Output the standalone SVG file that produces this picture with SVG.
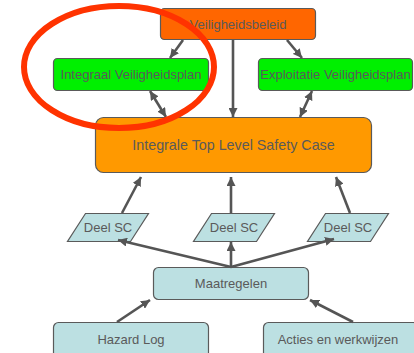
<svg xmlns="http://www.w3.org/2000/svg" width="414" height="353" viewBox="0 0 414 353">
<style>
.box{stroke:#5a5a5a;stroke-width:1.2}
.red{fill:#FF6600}.grn{fill:#00F000}.org{fill:#FF9900}.cyn{fill:#BCE0E2}
text{font-family:"Liberation Sans",Arial,sans-serif;fill:#5a5a5a;text-anchor:middle;font-size:13px}
.big{font-size:14.3px}
.c line{stroke:#555;stroke-width:2.6}
</style>
<defs>
<marker id="ah" viewBox="0 0 10 10" refX="10" refY="5" markerWidth="9" markerHeight="9" markerUnits="userSpaceOnUse" orient="auto-start-reverse">
<path d="M0,0 L10,5 L0,10 z" fill="#555"/>
</marker>
</defs>
<rect width="414" height="353" fill="#fff"/>
<g id="veiligheidsbeleid"><rect class="box red" x="160.5" y="8.5" width="155" height="31" rx="4"/><text x="238" y="29">Veiligheidsbeleid</text></g>
<g id="integraal"><rect class="box grn" x="53.5" y="58.5" width="155" height="32" rx="4"/><text x="131" y="79">Integraal Veiligheidsplan</text></g>
<g id="exploitatie"><rect class="box grn" x="258.5" y="58.5" width="154" height="32" rx="4"/><text x="335.5" y="79">Exploitatie Veiligheidsplan</text></g>
<g id="tlsc"><rect class="box org" x="95.5" y="117.5" width="276" height="55" rx="8"/><text class="big" x="233.5" y="150">Integrale Top Level Safety Case</text></g>
<g id="deelsc1"><path class="box cyn" d="M85.5,213.5 L148.5,213.5 L130.5,241.5 L67.5,241.5 z"/><text x="108" y="232">Deel SC</text></g>
<g id="deelsc2"><path class="box cyn" d="M211.5,213.5 L274.5,213.5 L256.5,241.5 L193.5,241.5 z"/><text x="234" y="232">Deel SC</text></g>
<g id="deelsc3"><path class="box cyn" d="M325.5,213.5 L388.5,213.5 L370.5,241.5 L307.5,241.5 z"/><text x="348" y="232">Deel SC</text></g>
<g id="maatregelen"><rect class="box cyn" x="153.5" y="267.5" width="155" height="32" rx="5"/><text x="231" y="288">Maatregelen</text></g>
<g id="hazardlog"><rect class="box cyn" x="53.5" y="322.5" width="155" height="40" rx="5"/><text x="131" y="344">Hazard Log</text></g>
<g id="acties"><rect class="box cyn" x="263.5" y="322.5" width="155" height="40" rx="5"/><text x="338" y="344">Acties en werkwijzen</text></g>
<g class="c">
<line x1="183" y1="40" x2="170" y2="58" marker-end="url(#ah)"/>
<line x1="287" y1="40" x2="302" y2="58" marker-end="url(#ah)"/>
<line x1="233" y1="40" x2="233" y2="117" marker-end="url(#ah)"/>
<line x1="150" y1="91" x2="166" y2="117" marker-start="url(#ah)" marker-end="url(#ah)"/>
<line x1="312" y1="91" x2="300" y2="117" marker-start="url(#ah)" marker-end="url(#ah)"/>
<line x1="122" y1="213" x2="141" y2="177" marker-end="url(#ah)"/>
<line x1="231" y1="213" x2="231" y2="177" marker-end="url(#ah)"/>
<line x1="350" y1="213" x2="336" y2="177" marker-end="url(#ah)"/>
<line x1="231" y1="267" x2="118" y2="240" marker-end="url(#ah)"/>
<line x1="231" y1="267" x2="231" y2="242" marker-end="url(#ah)"/>
<line x1="231" y1="267" x2="334" y2="239" marker-end="url(#ah)"/>
<line x1="117" y1="322" x2="150" y2="300" marker-end="url(#ah)"/>
<line x1="353" y1="322" x2="310" y2="300" marker-end="url(#ah)"/>
</g>
<ellipse cx="119" cy="67" rx="95" ry="61" fill="none" stroke="#FF3300" stroke-width="6"/>
</svg>
